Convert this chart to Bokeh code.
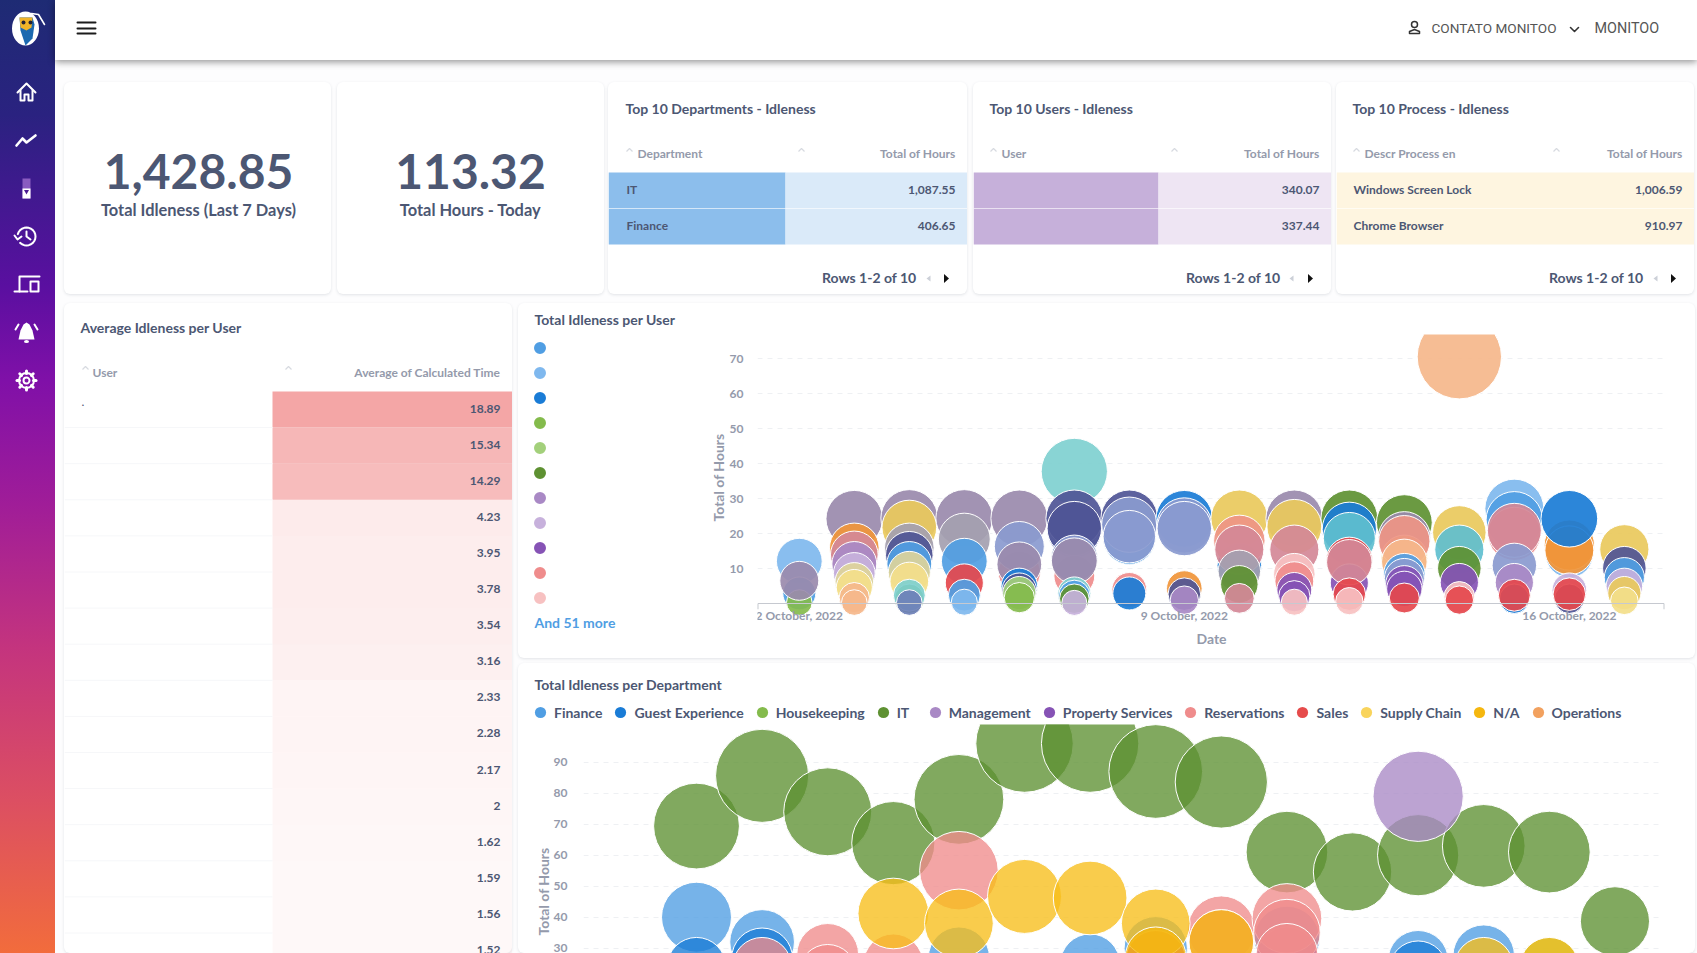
import math
from bokeh.plotting import figure
from bokeh.models import Range1d, Label, Legend, LegendItem, FixedTicker, ColumnDataSource, Pane
from bokeh.core.properties import value
from bokeh.embed import file_html
from bokeh.resources import INLINE

# ---------------- data ----------------
kpi_values = ["1,428.85", "113.32"]
kpi_labels = ["Total Idleness (Last 7 Days)", "Total Hours - Today"]

dept_names = ["IT", "Finance"]
dept_hours = ["1,087.55", "406.65"]
top_user_names = ["", ""]
top_user_hours = ["340.07", "337.44"]
process_names = ["Windows Screen Lock", "Chrome Browser"]
process_hours = ["1,006.59", "910.97"]

avg_hours = [18.89, 15.34, 14.29, 4.23, 3.95, 3.78, 3.54, 3.16, 2.33, 2.28, 2.17, 2, 1.62, 1.59, 1.56, 1.52]

date_ticks = {0: "2 October, 2022", 7: "9 October, 2022", 14: "16 October, 2022"}

# Total idleness per user: hours and the user (colour slot) per day, back to front
d00_hours = [12.2, 3, 0.4, 6.6]
d00_users = [1, 0, 3, 20]
d01_hours = [24.3, 16, 10, 14, 11.4, 8.7, 6.3, 4.7, 1.8, 0.4]
d01_users = [20, 14, 0, 21, 6, 7, 22, 13, 15, 15]
d02_hours = [24.5, 21.8, 16, 13.9, 11.4, 9, 6.4, 1.5, 2.5, 0.4]
d02_users = [20, 12, 24, 18, 0, 22, 13, 5, 16, 23]
d03_hours = [24.5, 18.5, 12.2, 6, 2.5, 0.5]
d03_users = [20, 24, 0, 11, 0, 1]
d04_hours = [24.4, 9, 16.4, 11.3, 5, 3.9, 3.1, 1.8]
d04_users = [20, 9, 19, 20, 2, 18, 4, 3]
d05_hours = [37.8, 20.8, 24.4, 21.5, 8, 13, 12.3, 3, 2.3, 1.5, 0.3]
d05_users = [16, 19, 18, 18, 9, 19, 20, 16, 0, 5, 7]
d06_hours = [24.4, 18.7, 22.6, 19.2, 4, 3]
d06_users = [18, 0, 19, 19, 9, 2]
d07_hours = [24.3, 22.4, 21.5, 4.4, 2.8, 1.1]
d07_users = [2, 19, 19, 14, 18, 6]
d08_hours = [24.4, 11, 18, 15.5, 9.3, 5.6, 1.6]
d08_users = [12, 2, 25, 21, 24, 5, 21]
d09_hours = [24.4, 22, 15.5, 8.5, 6.5, 4, 2.2, 0.5]
d09_users = [20, 12, 21, 10, 9, 8, 8, 10]
d10_hours = [24.4, 21.3, 18.7, 12.5, 6, 11.9, 2.8, 0.8]
d10_users = [5, 2, 17, 11, 8, 21, 11, 10]
d11_hours = [23.2, 18.9, 13, 17.9, 12, 8.5, 7.3, 5.6, 4.3, 1.7]
d11_users = [5, 20, 12, 25, 15, 0, 19, 8, 8, 11]
d12_hours = [70.5, 20.4, 15.5, 10.2, 6.1, 2, 1.1]
d12_users = [15, 12, 17, 5, 8, 10, 11]
d13_hours = [27.2, 24, 20, 21, 11, 6.1, 1.5, 2.5]
d13_users = [1, 0, 9, 21, 19, 6, 2, 11]
d14_hours = [14.3, 16.8, 15.3, 24.3, 3.9, 1.5, 2.8]
d14_users = [1, 14, 14, 2, 7, 18, 11]
d15_hours = [15.6, 10.2, 7.5, 5, 3.1, 0.9]
d15_users = [12, 18, 0, 7, 12, 13]

# Total idleness per department
finance_days = [1, 2, 5, 7, 8, 11, 12, 13]
finance_hours = [40, 32, 27, 25, 30, 18, 26, 27.6]
guest_days = [1, 2, 10, 12]
guest_hours = [24, 26.7, 33, 23]
housekeeping_days = [14]
housekeeping_hours = [24]
it_days = [1, 2, 3, 4, 5, 6, 7, 8, 9, 10, 11, 12, 13, 14, 15]
it_hours = [69.4, 85.6, 74, 63.9, 78, 96, 96, 87, 83.6, 61, 54.6, 60, 63, 61, 38.7]
management_days = [12]
management_hours = [79]
property_days = [10]
property_hours = [27]
reservations_days = [2, 3, 3, 4, 5, 9, 9, 10, 10, 10]
reservations_hours = [24, 28, 22, 25, 55, 36, 32, 39.6, 35, 28]
sales_days = [8]
sales_hours = [26]
supply_days = [4, 5, 6, 7, 8, 13, 14]
supply_hours = [41.2, 38, 46.7, 46.2, 38, 24, 24]
na_days = [8, 9, 13]
na_hours = [27, 32, 18]
operations_days = []
operations_hours = []
dept_legend = ["Finance", "Guest Experience", "Housekeeping", "IT", "Management", "Property Services",
               "Reservations", "Sales", "Supply Chain", "N/A", "Operations"]

# ---------------- style ----------------
INK = "#4c5773"
MUTED = "#949aab"
FONT = "Lato"
USER_COLORS = ["#509EE3", "#7FB8EE", "#1A7CD6", "#84BB4C", "#A3D07B", "#5E9132", "#A989C5", "#C7B1DC", "#8653B5",
               "#EF8C8C", "#F7C1C1", "#E5484D", "#E9C95C", "#F3DE8A", "#F0953A", "#F5B78B", "#7FD0D0", "#5FBFCF",
               "#4F5596", "#8A9ACF", "#9A8AAC", "#D48897", "#DDD49A", "#6E80B8", "#A49FB0", "#EE9585"]
USER_LEGEND = USER_COLORS[:11]
DEPT_LEGEND_COLORS = ["#509EE3", "#1A7CD6", "#84BB4C", "#5E9132", "#A989C5", "#8653B5", "#EF8C8C", "#E64B4B",
                      "#F9D45C", "#F5B70F", "#F2A15F"]
CARD = {"background": "white", "border-radius": "6px", "box-shadow": "0 1px 3px rgba(60,70,90,.14)"}
CLEAR = {}
NAN = float("nan")


def tile(x0, y0, x1, y1, xr=None, yr=None, css=None, **kw):
    st = {"position": "absolute", "left": f"{x0}px", "top": f"{y0}px"}
    st.update(CARD if css is None else css)
    p = figure(width=x1 - x0, height=y1 - y0, output_backend="svg", toolbar_location=None,
               x_range=xr or Range1d(x0, x1), y_range=yr or Range1d(y1, y0),
               min_border_left=kw.pop("left", 0), min_border_right=kw.pop("right", 0),
               min_border_top=kw.pop("top", 0), min_border_bottom=kw.pop("bottom", 0),
               border_fill_color=None, background_fill_color=None, outline_line_color=None,
               styles=st, **kw)
    return p


def bare(p):
    p.xaxis.visible = False
    p.yaxis.visible = False
    p.grid.visible = False


def put(p, origin, x, y, text, size=14, color=INK, style="bold", align="left", font=FONT, angle=0):
    """Text at a page position; origin = page position of the frame's lower left corner."""
    p.add_layout(Label(x=x - origin[0], y=origin[1] - y + 1, x_units="screen", y_units="screen", text=text,
                       text_font=font, text_font_size=f"{size}px", text_font_style=style, text_color=color,
                       text_align=align, text_baseline="middle", angle=angle, angle_units="deg"))


def lines(p, paths, color="white", width=2):
    p.multi_line([[c[0] for c in q] for q in paths], [[c[1] for c in q] for q in paths],
                 line_color=color, line_width=width, line_cap="round", line_join="round")


tiles = []

# ---------------- sidebar ----------------
side = tile(0, 0, 55, 953, css={
    "background": "linear-gradient(180deg,#1e2b74 0%,#2a2280 12%,#5a0fa0 30%,#8010a8 40%,#a01d98 53%,#c4347e 68%,#dc4f62 84%,#f26c3c 100%)"})
bare(side)
cx = 26
side.ellipse([cx - 1], [28], width=27, height=34, fill_color="white", line_color=None)
side.patch([19, 32, 34, 32, 25, 20], [17, 17, 24, 38, 45, 30], fill_color="#1c69b0", line_color=None)
side.patch([19, 32, 31, 26, 20], [17, 17, 27, 30, 27], fill_color="#f0b429", line_color=None)
side.scatter([23, 30], [22, 22], size=4, fill_color="#223", line_color=None)
lines(side, [[(31, 13), (38, 14), (44, 24)]], width=1.6)
lines(side, [[(cx - 9, 92), (cx, 83), (cx + 9, 92)],
             [(cx - 6, 90), (cx - 6, 100), (cx - 2, 100), (cx - 2, 94), (cx + 2, 94), (cx + 2, 100), (cx + 6, 100), (cx + 6, 90)]])
lines(side, [[(cx - 10, 145), (cx - 4, 138), (cx, 142), (cx + 9, 135)]], width=2.6)
side.quad([cx - 4], [cx + 4], [178], [198], fill_color="#8a5cc0", line_color=None)
side.quad([cx - 4], [cx + 4], [188], [198], fill_color="white", line_color=None)
side.scatter([cx], [191], marker="inverted_triangle", size=5, fill_color="#4a1a90", line_color=None)
th = [i * math.pi / 12 for i in range(-5, 16)]
lines(side, [[(cx + 9 * math.sin(t), 236 - 9 * math.cos(t)) for t in th],
             [(cx, 231), (cx, 236), (cx + 4, 239)], [(cx - 12, 235), (cx - 9, 239), (cx - 5, 236)]])
lines(side, [[(cx + 13, 276), (cx - 7, 276), (cx - 7, 291)], [(cx - 12, 291), (cx + 1, 291)],
             [(cx + 4, 281), (cx + 12, 281), (cx + 12, 291), (cx + 4, 291), (cx + 4, 281)]])
side.patch([cx - 8, cx - 6, cx - 3, cx, cx + 3, cx + 6, cx + 8], [339, 330, 324, 322, 324, 330, 339], fill_color="white", line_color=None)
side.ellipse([cx], [341], width=5, height=3, fill_color="white", line_color=None)
lines(side, [[(cx - 11, 329), (cx - 8, 324)], [(cx + 11, 329), (cx + 8, 324)]])
ga = [i * math.pi / 4 for i in range(8)]
lines(side, [[(cx + 7 * math.cos(a), 380 + 7 * math.sin(a)), (cx + 9.5 * math.cos(a), 380 + 9.5 * math.sin(a))] for a in ga], width=3)
side.scatter([cx], [380], size=15, fill_color=None, line_color="white", line_width=2)
side.scatter([cx], [380], size=6, fill_color=None, line_color="white", line_width=2)

# ---------------- header ----------------
head = tile(55, 0, 1697, 60, css={"background": "white", "box-shadow": "0 2px 7px rgba(0,0,0,.42)", "z-index": "3"})
bare(head)
lines(head, [[(77, y), (95, y)] for y in (22, 28, 33)], color="#1b1b1b", width=2)
head.scatter([1414], [24], size=6, fill_color=None, line_color="#333", line_width=1.5)
lines(head, [[(1409, 33), (1409, 31), (1414, 29), (1419, 31), (1419, 33), (1409, 33)]], color="#333", width=1.5)
lines(head, [[(1570, 27), (1574, 31), (1578, 27)]], color="#333", width=1.6)
put(head, (55, 60), 1431, 28, "CONTATO MONITOO", size=13.6, color="#555", style="normal", font="Roboto")
put(head, (55, 60), 1594, 29, "MONITOO", size=14.4, color="#555", style="normal", font="Roboto")

# ---------------- KPI cards ----------------
CARD_TOP, CARD_BOTTOM = 82, 294
for (x0, x1, val, lab, c) in [(64, 331, kpi_values[0], kpi_labels[0], 198), (337, 604, kpi_values[1], kpi_labels[1], 470)]:
    k = tile(x0, CARD_TOP, x1, CARD_BOTTOM)
    bare(k)
    put(k, (x0, CARD_BOTTOM), c, 172, val, size=48, align="center")
    put(k, (x0, CARD_BOTTOM), c, 210, lab, size=16.4, align="center")
    tiles.append(k)

# ---------------- top 10 tables ----------------
ROW0, ROWH = 172, 36
tables = [
    (608, 967, 785, "Top 10 Departments - Idleness", "Department", dept_names, dept_hours, "#8CBEEC", "#DAEAF9",
     625, 637, 626, 955, 916, 928, 946, 629, 801),
    (973, 1331, 1158, "Top 10 Users - Idleness", "User", top_user_names, top_user_hours, "#C6B0DA", "#EEE5F3",
     989, 1001, 989, 1319, 1280, 1291, 1310, 993, 1174),
    (1336, 1694, 1336, "Top 10 Process - Idleness", "Descr Process en", process_names, process_hours, "#FEF5E0", "#FEF5E0",
     1352, 1364, 1353, 1682, 1643, 1655, 1673, 1356, 1556),
]
for (x0, x1, split, title, colname, names, hours, c1, c2, tx, hx, nx, vx, px, ga_, ba, c1x, c2x) in tables:
    t = tile(x0, CARD_TOP, x1, CARD_BOTTOM, yr=Range1d((CARD_BOTTOM - ROW0) / ROWH, (CARD_TOP - ROW0) / ROWH))
    bare(t)
    rows = list(range(len(names)))
    t.quad(left=[x0] * 2, right=[split] * 2, top=rows, bottom=[r + 1 for r in rows], fill_color=c1, line_color=None)
    t.quad(left=[split] * 2, right=[x1] * 2, top=rows, bottom=[r + 1 for r in rows], fill_color=c2, line_color=None)
    t.segment([x0], [1], [x1], [1], line_color="white", line_alpha=0.5)
    t.text([nx] * 2, [r + 0.5 for r in rows], names, text_font=value(FONT), text_font_size="12px", text_font_style="bold",
           text_color=INK, text_baseline="middle", y_offset=-1)
    t.text([vx] * 2, [r + 0.5 for r in rows], hours, text_font=value(FONT), text_font_size="12px", text_font_style="bold",
           text_color=INK, text_baseline="middle", text_align="right", y_offset=-1)
    o = (x0, CARD_BOTTOM)
    put(t, o, tx, 109, title)
    put(t, o, hx, 154, colname, size=12, color=MUTED)
    put(t, o, vx, 154, "Total of Hours", size=12, color=MUTED, align="right")
    put(t, o, px, 278, "Rows 1-2 of 10", size=14, align="right")
    # pagination arrows and sort carets
    rowy = lambda y: (y - ROW0) / ROWH
    t.patch([ba - 2.5, ba + 2.5, ba - 2.5], [rowy(273.5), rowy(278), rowy(282.5)], fill_color="#111", line_color=None)
    t.patch([ga_ + 2, ga_ - 2, ga_ + 2], [rowy(275), rowy(278), rowy(281)], fill_color="#ccd0d8", line_color=None)
    for cxx in (c1x, c2x):
        t.line([cxx - 3, cxx, cxx + 3], [rowy(151), rowy(148), rowy(151)], line_color="#d7dae0", line_width=1.2)
    tiles.append(t)

# ---------------- average idleness table ----------------
AVG0, AVGH = 391, 36.1
a = tile(64, 303, 512, 953, yr=Range1d((953 - AVG0) / AVGH, (303 - AVG0) / AVGH))
bare(a)
rows = list(range(len(avg_hours)))
peak = max(avg_hours)
a.quad(left=[272] * len(rows), right=[512] * len(rows), top=rows, bottom=[r + 1 for r in rows],
       fill_color="#F4A6A6", line_color=None, fill_alpha=[v / peak for v in avg_hours])
a.segment([64] * len(rows), [r + 1 for r in rows], [272] * len(rows), [r + 1 for r in rows], line_color="#f6f7f9")
a.text([500] * len(rows), [r + 0.5 for r in rows], [f"{v:g}" for v in avg_hours], text_font=value(FONT),
       text_font_size="12px", text_font_style="bold", text_color=INK, text_baseline="middle", text_align="right", y_offset=-1)
a.text([81], [0.3], ["."], text_font=value(FONT), text_font_size="12px", text_color=INK, text_baseline="middle")
o = (64, 953)
put(a, o, 80, 328, "Average Idleness per User")
put(a, o, 92, 373, "User", size=12, color=MUTED)
put(a, o, 500, 373, "Average of Calculated Time", size=12, color=MUTED, align="right")
for cxx in (85, 288):
    a.line([cxx - 3, cxx, cxx + 3], [(369 - AVG0) / AVGH, (366 - AVG0) / AVGH, (369 - AVG0) / AVGH], line_color="#d7dae0", line_width=1.2)
tiles.append(a)


def style_axes(p, ticks):
    p.yaxis.ticker = FixedTicker(ticks=ticks)
    p.yaxis.axis_line_color = None
    p.yaxis.major_tick_line_color = None
    p.yaxis.minor_tick_line_color = None
    p.yaxis.major_label_text_font = FONT
    p.yaxis.major_label_text_font_size = "12px"
    p.yaxis.major_label_text_font_style = "bold"
    p.yaxis.major_label_text_color = MUTED
    p.yaxis.major_label_standoff = 8
    p.xgrid.visible = False
    p.ygrid.ticker = FixedTicker(ticks=ticks)
    p.ygrid.grid_line_color = "#eef0f3"
    p.ygrid.grid_line_dash = [5, 5]


# ---------------- per user bubbles ----------------
ubg = tile(518, 303, 1695, 658)
bare(ubg)
leg_items = [LegendItem(label=value(" "), renderers=[ubg.scatter(x=[NAN], y=[NAN], size=12, fill_color=c, line_color=c, line_width=2)])
             for c in USER_LEGEND]
ubg.add_layout(Legend(items=leg_items, location=(9, 48), orientation="vertical", glyph_width=25, glyph_height=25,
                      spacing=0, padding=0, margin=0, label_standoff=0, border_line_color=None,
                      background_fill_alpha=0, label_height=10, label_text_font_size="1px"))
o = (518, 658)
put(ubg, o, 534, 320, "Total Idleness per User")
put(ubg, o, 534, 623, "And 51 more", color="#509EE3")
put(ubg, o, 1211, 639, "Date", color=MUTED, align="center")
put(ubg, o, 718, 478, "Total of Hours", color=MUTED, align="center", angle=90)
tiles.append(ubg)

u = tile(518, 303, 1695, 658, xr=Range1d(-0.76, 15.73), yr=Range1d(-7, 76.86), css=CLEAR,
         left=239, right=31, top=31, bottom=30)
style_axes(u, [10, 20, 30, 40, 50, 60, 70])
u.xaxis.fixed_location = 0
u.xaxis.ticker = FixedTicker(ticks=list(date_ticks))
u.xaxis.major_label_overrides = date_ticks
u.xaxis.major_tick_line_color = None
u.xaxis.minor_tick_line_color = None
u.xaxis.axis_line_color = "#c6c9d0"
u.xaxis.major_label_text_font = FONT
u.xaxis.major_label_text_font_size = "12px"
u.xaxis.major_label_text_font_style = "bold"
u.xaxis.major_label_text_color = MUTED
u.xaxis.major_label_standoff = -2
u.segment(x0=[u.x_range.start, u.x_range.end], y0=[0, 0], x1=[u.x_range.start, u.x_range.end], y1=[-1.5, -1.5],
          line_color="#c6c9d0", line_width=2)
days_h = [d00_hours, d01_hours, d02_hours, d03_hours, d04_hours, d05_hours, d06_hours, d07_hours,
          d08_hours, d09_hours, d10_hours, d11_hours, d12_hours, d13_hours, d14_hours, d15_hours]
days_u = [d00_users, d01_users, d02_users, d03_users, d04_users, d05_users, d06_users, d07_users,
          d08_users, d09_users, d10_users, d11_users, d12_users, d13_users, d14_users, d15_users]
bx, by, bs, bc = [], [], [], []
for day, (hs, us) in enumerate(zip(days_h, days_u)):
    for h, w in zip(hs, us):
        bx.append(day)
        by.append(h)
        bs.append(22 + 6 * h ** 0.55)
        bc.append(USER_COLORS[w])
u.scatter(x="x", y="y", size="s", fill_color="c", fill_alpha=0.92, line_color="white", line_width=1,
          source=ColumnDataSource(dict(x=bx, y=by, s=bs, c=bc)))
tiles.append(u)

# ---------------- per department bubbles ----------------
dbg = tile(518, 663, 1695, 953)
bare(dbg)
items = [LegendItem(label=value(n), renderers=[dbg.scatter(x=[NAN], y=[NAN], size=12, fill_color=c, line_color=None)])
         for n, c in zip(dept_legend, DEPT_LEGEND_COLORS)]
dbg.add_layout(Legend(items=items, location=(8, 227), orientation="horizontal", glyph_width=28, glyph_height=28,
                      spacing=4, padding=0, margin=0, label_standoff=0, border_line_color=None,
                      background_fill_alpha=0, label_text_font=FONT, label_text_font_size="14px",
                      label_text_font_style="bold", label_text_color=INK, label_height=28))
o = (518, 953)
put(dbg, o, 534, 685, "Total Idleness per Department")
put(dbg, o, 543, 892, "Total of Hours", color=MUTED, align="center", angle=90)
tiles.append(dbg)

d = tile(518, 663, 1695, 953, xr=Range1d(-0.7225, 15.74), yr=Range1d(28.29, 102.16), css=CLEAR,
         left=65, right=32, top=61, bottom=0, x_axis_location=None)
style_axes(d, [30, 40, 50, 60, 70, 80, 90])
d.yaxis.major_label_standoff = 10
series = [(finance_days, finance_hours, "#509EE3"), (guest_days, guest_hours, "#1A7CD6"),
          (housekeeping_days, housekeeping_hours, "#84BB4C"), (it_days, it_hours, "#5E9132"),
          (management_days, management_hours, "#A989C5"), (property_days, property_hours, "#8653B5"),
          (reservations_days, reservations_hours, "#EF8C8C"), (sales_days, sales_hours, "#E64B4B"),
          (supply_days, supply_hours, "#F7BE1A"), (na_days, na_hours, "#F5B70F"),
          (operations_days, operations_hours, "#F2A15F")]
for dd, hh, c in series:
    d.scatter(x=dd, y=hh, size=[20 + 7.9 * math.sqrt(v) for v in hh], fill_color=c, fill_alpha=0.78,
              line_color="white", line_width=1)
tiles.append(d)

page = Pane(elements=[side, head] + tiles,
            styles={"position": "fixed", "left": "0", "top": "0", "width": "1697px", "height": "953px",
                    "background": "#fdfdfe", "overflow": "hidden"})
open("out.html", "w").write(file_html(page, INLINE))
